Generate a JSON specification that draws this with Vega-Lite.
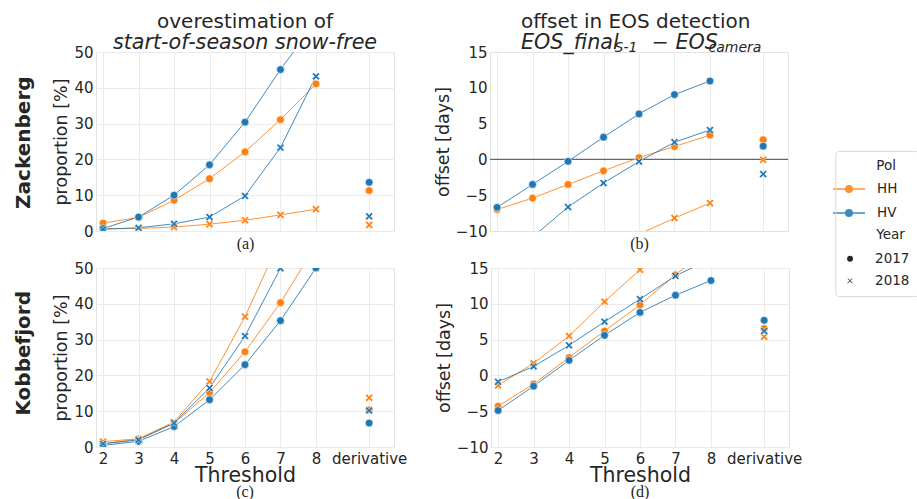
{
  "$schema": "https://vega.github.io/schema/vega-lite/v6.json",
  "padding": {"left": 14, "top": 11, "right": 0, "bottom": 0},
  "autosize": {"type": "pad"},
  "config": {
    "font": "DejaVu Sans",
    "view": {"stroke": "#e3e3e3", "strokeWidth": 1},
    "axis": {"labelFont": "DejaVu Sans", "labelFontSize": 15, "labelColor": "#262626", "titleFont": "DejaVu Sans", "titleFontWeight": "normal", "titleColor": "#262626", "ticks": false, "domain": false, "gridColor": "#ebebeb", "gridWidth": 1, "labelAngle": 0, "labelOverlap": false},
    "title": {"font": "DejaVu Sans", "color": "#262626", "fontWeight": "normal", "anchor": "middle", "frame": "group"}
  },
  "datasets": {
    "d": [
      {"site":"Zackenberg","metric":"proportion","Pol":"HH","Year":"2017","threshold":"2","value":2.2},
      {"site":"Zackenberg","metric":"proportion","Pol":"HH","Year":"2017","threshold":"3","value":3.8},
      {"site":"Zackenberg","metric":"proportion","Pol":"HH","Year":"2017","threshold":"4","value":8.6},
      {"site":"Zackenberg","metric":"proportion","Pol":"HH","Year":"2017","threshold":"5","value":14.6},
      {"site":"Zackenberg","metric":"proportion","Pol":"HH","Year":"2017","threshold":"6","value":22.1},
      {"site":"Zackenberg","metric":"proportion","Pol":"HH","Year":"2017","threshold":"7","value":31.1},
      {"site":"Zackenberg","metric":"proportion","Pol":"HH","Year":"2017","threshold":"8","value":41.1},
      {"site":"Zackenberg","metric":"proportion","Pol":"HH","Year":"2017","threshold":"derivative","value":11.3},
      {"site":"Zackenberg","metric":"proportion","Pol":"HH","Year":"2018","threshold":"2","value":0.65},
      {"site":"Zackenberg","metric":"proportion","Pol":"HH","Year":"2018","threshold":"3","value":0.7},
      {"site":"Zackenberg","metric":"proportion","Pol":"HH","Year":"2018","threshold":"4","value":1.1},
      {"site":"Zackenberg","metric":"proportion","Pol":"HH","Year":"2018","threshold":"5","value":1.9},
      {"site":"Zackenberg","metric":"proportion","Pol":"HH","Year":"2018","threshold":"6","value":3.0},
      {"site":"Zackenberg","metric":"proportion","Pol":"HH","Year":"2018","threshold":"7","value":4.5},
      {"site":"Zackenberg","metric":"proportion","Pol":"HH","Year":"2018","threshold":"8","value":6.1},
      {"site":"Zackenberg","metric":"proportion","Pol":"HH","Year":"2018","threshold":"derivative","value":1.7},
      {"site":"Zackenberg","metric":"proportion","Pol":"HV","Year":"2017","threshold":"2","value":0.7},
      {"site":"Zackenberg","metric":"proportion","Pol":"HV","Year":"2017","threshold":"3","value":3.9},
      {"site":"Zackenberg","metric":"proportion","Pol":"HV","Year":"2017","threshold":"4","value":10.0},
      {"site":"Zackenberg","metric":"proportion","Pol":"HV","Year":"2017","threshold":"5","value":18.5},
      {"site":"Zackenberg","metric":"proportion","Pol":"HV","Year":"2017","threshold":"6","value":30.4},
      {"site":"Zackenberg","metric":"proportion","Pol":"HV","Year":"2017","threshold":"7","value":45.1},
      {"site":"Zackenberg","metric":"proportion","Pol":"HV","Year":"2017","threshold":"8","value":58.5},
      {"site":"Zackenberg","metric":"proportion","Pol":"HV","Year":"2017","threshold":"derivative","value":13.6},
      {"site":"Zackenberg","metric":"proportion","Pol":"HV","Year":"2018","threshold":"2","value":0.5},
      {"site":"Zackenberg","metric":"proportion","Pol":"HV","Year":"2018","threshold":"3","value":0.9},
      {"site":"Zackenberg","metric":"proportion","Pol":"HV","Year":"2018","threshold":"4","value":2.0},
      {"site":"Zackenberg","metric":"proportion","Pol":"HV","Year":"2018","threshold":"5","value":3.9},
      {"site":"Zackenberg","metric":"proportion","Pol":"HV","Year":"2018","threshold":"6","value":9.8},
      {"site":"Zackenberg","metric":"proportion","Pol":"HV","Year":"2018","threshold":"7","value":23.3},
      {"site":"Zackenberg","metric":"proportion","Pol":"HV","Year":"2018","threshold":"8","value":43.2},
      {"site":"Zackenberg","metric":"proportion","Pol":"HV","Year":"2018","threshold":"derivative","value":4.1},
      {"site":"Zackenberg","metric":"offset","Pol":"HH","Year":"2017","threshold":"2","value":-7.0},
      {"site":"Zackenberg","metric":"offset","Pol":"HH","Year":"2017","threshold":"3","value":-5.4},
      {"site":"Zackenberg","metric":"offset","Pol":"HH","Year":"2017","threshold":"4","value":-3.5},
      {"site":"Zackenberg","metric":"offset","Pol":"HH","Year":"2017","threshold":"5","value":-1.6},
      {"site":"Zackenberg","metric":"offset","Pol":"HH","Year":"2017","threshold":"6","value":0.25},
      {"site":"Zackenberg","metric":"offset","Pol":"HH","Year":"2017","threshold":"7","value":1.8},
      {"site":"Zackenberg","metric":"offset","Pol":"HH","Year":"2017","threshold":"8","value":3.4},
      {"site":"Zackenberg","metric":"offset","Pol":"HH","Year":"2017","threshold":"derivative","value":2.75},
      {"site":"Zackenberg","metric":"offset","Pol":"HH","Year":"2018","threshold":"6","value":-10.45},
      {"site":"Zackenberg","metric":"offset","Pol":"HH","Year":"2018","threshold":"7","value":-8.2},
      {"site":"Zackenberg","metric":"offset","Pol":"HH","Year":"2018","threshold":"8","value":-6.1},
      {"site":"Zackenberg","metric":"offset","Pol":"HH","Year":"2018","threshold":"derivative","value":-0.05},
      {"site":"Zackenberg","metric":"offset","Pol":"HV","Year":"2017","threshold":"2","value":-6.7},
      {"site":"Zackenberg","metric":"offset","Pol":"HV","Year":"2017","threshold":"3","value":-3.5},
      {"site":"Zackenberg","metric":"offset","Pol":"HV","Year":"2017","threshold":"4","value":-0.27},
      {"site":"Zackenberg","metric":"offset","Pol":"HV","Year":"2017","threshold":"5","value":3.1},
      {"site":"Zackenberg","metric":"offset","Pol":"HV","Year":"2017","threshold":"6","value":6.35},
      {"site":"Zackenberg","metric":"offset","Pol":"HV","Year":"2017","threshold":"7","value":9.05},
      {"site":"Zackenberg","metric":"offset","Pol":"HV","Year":"2017","threshold":"8","value":10.95},
      {"site":"Zackenberg","metric":"offset","Pol":"HV","Year":"2017","threshold":"derivative","value":1.85},
      {"site":"Zackenberg","metric":"offset","Pol":"HV","Year":"2018","threshold":"3","value":-10.85},
      {"site":"Zackenberg","metric":"offset","Pol":"HV","Year":"2018","threshold":"4","value":-6.65},
      {"site":"Zackenberg","metric":"offset","Pol":"HV","Year":"2018","threshold":"5","value":-3.3},
      {"site":"Zackenberg","metric":"offset","Pol":"HV","Year":"2018","threshold":"6","value":-0.3},
      {"site":"Zackenberg","metric":"offset","Pol":"HV","Year":"2018","threshold":"7","value":2.4},
      {"site":"Zackenberg","metric":"offset","Pol":"HV","Year":"2018","threshold":"8","value":4.1},
      {"site":"Zackenberg","metric":"offset","Pol":"HV","Year":"2018","threshold":"derivative","value":-2.05},
      {"site":"Kobbefjord","metric":"proportion","Pol":"HH","Year":"2017","threshold":"2","value":0.9},
      {"site":"Kobbefjord","metric":"proportion","Pol":"HH","Year":"2017","threshold":"3","value":2.2},
      {"site":"Kobbefjord","metric":"proportion","Pol":"HH","Year":"2017","threshold":"4","value":6.6},
      {"site":"Kobbefjord","metric":"proportion","Pol":"HH","Year":"2017","threshold":"5","value":15.2},
      {"site":"Kobbefjord","metric":"proportion","Pol":"HH","Year":"2017","threshold":"6","value":26.6},
      {"site":"Kobbefjord","metric":"proportion","Pol":"HH","Year":"2017","threshold":"7","value":40.3},
      {"site":"Kobbefjord","metric":"proportion","Pol":"HH","Year":"2017","threshold":"8","value":56.5},
      {"site":"Kobbefjord","metric":"proportion","Pol":"HH","Year":"2017","threshold":"derivative","value":10.4},
      {"site":"Kobbefjord","metric":"proportion","Pol":"HH","Year":"2018","threshold":"2","value":1.5},
      {"site":"Kobbefjord","metric":"proportion","Pol":"HH","Year":"2018","threshold":"3","value":2.3},
      {"site":"Kobbefjord","metric":"proportion","Pol":"HH","Year":"2018","threshold":"4","value":7.0},
      {"site":"Kobbefjord","metric":"proportion","Pol":"HH","Year":"2018","threshold":"5","value":18.3},
      {"site":"Kobbefjord","metric":"proportion","Pol":"HH","Year":"2018","threshold":"6","value":36.4},
      {"site":"Kobbefjord","metric":"proportion","Pol":"HH","Year":"2018","threshold":"7","value":58.0},
      {"site":"Kobbefjord","metric":"proportion","Pol":"HH","Year":"2018","threshold":"8","value":80.0},
      {"site":"Kobbefjord","metric":"proportion","Pol":"HH","Year":"2018","threshold":"derivative","value":13.75},
      {"site":"Kobbefjord","metric":"proportion","Pol":"HV","Year":"2017","threshold":"2","value":0.45},
      {"site":"Kobbefjord","metric":"proportion","Pol":"HV","Year":"2017","threshold":"3","value":1.6},
      {"site":"Kobbefjord","metric":"proportion","Pol":"HV","Year":"2017","threshold":"4","value":5.7},
      {"site":"Kobbefjord","metric":"proportion","Pol":"HV","Year":"2017","threshold":"5","value":13.2},
      {"site":"Kobbefjord","metric":"proportion","Pol":"HV","Year":"2017","threshold":"6","value":23.0},
      {"site":"Kobbefjord","metric":"proportion","Pol":"HV","Year":"2017","threshold":"7","value":35.3},
      {"site":"Kobbefjord","metric":"proportion","Pol":"HV","Year":"2017","threshold":"8","value":50.0},
      {"site":"Kobbefjord","metric":"proportion","Pol":"HV","Year":"2017","threshold":"derivative","value":6.7},
      {"site":"Kobbefjord","metric":"proportion","Pol":"HV","Year":"2018","threshold":"2","value":0.9},
      {"site":"Kobbefjord","metric":"proportion","Pol":"HV","Year":"2018","threshold":"3","value":2.0},
      {"site":"Kobbefjord","metric":"proportion","Pol":"HV","Year":"2018","threshold":"4","value":6.7},
      {"site":"Kobbefjord","metric":"proportion","Pol":"HV","Year":"2018","threshold":"5","value":16.5},
      {"site":"Kobbefjord","metric":"proportion","Pol":"HV","Year":"2018","threshold":"6","value":31.0},
      {"site":"Kobbefjord","metric":"proportion","Pol":"HV","Year":"2018","threshold":"7","value":49.9},
      {"site":"Kobbefjord","metric":"proportion","Pol":"HV","Year":"2018","threshold":"8","value":68.0},
      {"site":"Kobbefjord","metric":"proportion","Pol":"HV","Year":"2018","threshold":"derivative","value":10.2},
      {"site":"Kobbefjord","metric":"offset","Pol":"HH","Year":"2017","threshold":"2","value":-4.3},
      {"site":"Kobbefjord","metric":"offset","Pol":"HH","Year":"2017","threshold":"3","value":-1.2},
      {"site":"Kobbefjord","metric":"offset","Pol":"HH","Year":"2017","threshold":"4","value":2.5},
      {"site":"Kobbefjord","metric":"offset","Pol":"HH","Year":"2017","threshold":"5","value":6.2},
      {"site":"Kobbefjord","metric":"offset","Pol":"HH","Year":"2017","threshold":"6","value":9.85},
      {"site":"Kobbefjord","metric":"offset","Pol":"HH","Year":"2017","threshold":"7","value":14.05},
      {"site":"Kobbefjord","metric":"offset","Pol":"HH","Year":"2017","threshold":"8","value":18.0},
      {"site":"Kobbefjord","metric":"offset","Pol":"HH","Year":"2017","threshold":"derivative","value":6.55},
      {"site":"Kobbefjord","metric":"offset","Pol":"HH","Year":"2018","threshold":"2","value":-1.4},
      {"site":"Kobbefjord","metric":"offset","Pol":"HH","Year":"2018","threshold":"3","value":1.7},
      {"site":"Kobbefjord","metric":"offset","Pol":"HH","Year":"2018","threshold":"4","value":5.5},
      {"site":"Kobbefjord","metric":"offset","Pol":"HH","Year":"2018","threshold":"5","value":10.3},
      {"site":"Kobbefjord","metric":"offset","Pol":"HH","Year":"2018","threshold":"6","value":14.75},
      {"site":"Kobbefjord","metric":"offset","Pol":"HH","Year":"2018","threshold":"7","value":19.0},
      {"site":"Kobbefjord","metric":"offset","Pol":"HH","Year":"2018","threshold":"8","value":23.0},
      {"site":"Kobbefjord","metric":"offset","Pol":"HH","Year":"2018","threshold":"derivative","value":5.4},
      {"site":"Kobbefjord","metric":"offset","Pol":"HV","Year":"2017","threshold":"2","value":-4.9},
      {"site":"Kobbefjord","metric":"offset","Pol":"HV","Year":"2017","threshold":"3","value":-1.5},
      {"site":"Kobbefjord","metric":"offset","Pol":"HV","Year":"2017","threshold":"4","value":2.1},
      {"site":"Kobbefjord","metric":"offset","Pol":"HV","Year":"2017","threshold":"5","value":5.6},
      {"site":"Kobbefjord","metric":"offset","Pol":"HV","Year":"2017","threshold":"6","value":8.8},
      {"site":"Kobbefjord","metric":"offset","Pol":"HV","Year":"2017","threshold":"7","value":11.2},
      {"site":"Kobbefjord","metric":"offset","Pol":"HV","Year":"2017","threshold":"8","value":13.25},
      {"site":"Kobbefjord","metric":"offset","Pol":"HV","Year":"2017","threshold":"derivative","value":7.7},
      {"site":"Kobbefjord","metric":"offset","Pol":"HV","Year":"2018","threshold":"2","value":-0.9},
      {"site":"Kobbefjord","metric":"offset","Pol":"HV","Year":"2018","threshold":"3","value":1.25},
      {"site":"Kobbefjord","metric":"offset","Pol":"HV","Year":"2018","threshold":"4","value":4.2},
      {"site":"Kobbefjord","metric":"offset","Pol":"HV","Year":"2018","threshold":"5","value":7.5},
      {"site":"Kobbefjord","metric":"offset","Pol":"HV","Year":"2018","threshold":"6","value":10.65},
      {"site":"Kobbefjord","metric":"offset","Pol":"HV","Year":"2018","threshold":"7","value":13.9},
      {"site":"Kobbefjord","metric":"offset","Pol":"HV","Year":"2018","threshold":"8","value":16.3},
      {"site":"Kobbefjord","metric":"offset","Pol":"HV","Year":"2018","threshold":"derivative","value":6.2}
    ]
  },
  "spacing": 8,
  "vconcat": [
    {
      "title": {"text": "Zackenberg", "orient": "left", "fontSize": 20, "fontWeight": "bold", "offset": 18, "frame": "bounds", "anchor": "middle", "dx": -11},
      "spacing": 38,
      "hconcat": [
        {
          "width": 298, "height": 179,
          "data": {"name": "d"},
          "transform": [{"filter": {"field": "site", "equal": "Zackenberg"}}, {"filter": {"field": "metric", "equal": "proportion"}}],
          "title": {"text": "overestimation of", "subtitle": "start-of-season snow-free", "fontSize": 20, "subtitleFontSize": 20.7, "subtitleFont": "DejaVu Sans", "subtitleFontStyle": "italic", "subtitleColor": "#262626", "subtitlePadding": 1, "offset": -8},
          "encoding": {
            "x": {"field": "threshold", "type": "ordinal", "scale": {"type": "point", "domain": ["2","g1","3","g2","4","g3","5","g4","6","g5","7","g6","8","g7","g8","derivative","g9"], "padding": 0.4}, "axis": {"orient": "bottom", "values": ["2","3","4","5","6","7","8","derivative"], "labels": false, "grid": true, "title": "(a)", "titleFont": "Liberation Serif", "titleFontSize": 16, "titlePadding": 4}},
            "y": {"field": "value", "type": "quantitative", "scale": {"domain": [0, 50], "nice": false, "zero": false}, "axis": {"values": [0,10,20,30,40,50], "title": "proportion [%]", "titleFontSize": 17.5, "titlePadding": 3, "labelPadding": 3}},
            "color": {"field": "Pol", "type": "nominal", "scale": {"domain": ["HH","HV"], "range": ["#ff7f0e","#1f77b4"]}, "legend": {"orient": "none", "legendX": 744, "legendY": 128, "title": null, "labelFontSize": 13.5, "labelColor": "#262626", "symbolType": "M-2,0L2,0M-0.4,0A0.4,0.4,0,1,1,0.4,0A0.4,0.4,0,1,1,-0.4,0Z", "symbolSize": 256, "symbolStrokeWidth": 1.6, "labelOffset": 19, "rowPadding": 8, "padding": 0}}
          },
          "layer": [
            {
              "transform": [{"filter": {"not": {"field": "threshold", "equal": "derivative"}}}],
              "mark": {"type": "line", "strokeWidth": 1, "opacity": 0.85, "clip": true},
              "encoding": {"detail": {"field": "Year"}}
            },
            {
              "mark": {"type": "point", "filled": true, "size": 60, "stroke": "white", "strokeWidth": 0.6, "opacity": 1, "clip": true},
              "encoding": {
                "shape": {"field": "Year", "type": "nominal", "scale": {"domain": ["2017","2018"], "range": ["circle", "M-1,-0.6L-0.6,-1L0,-0.4L0.6,-1L1,-0.6L0.4,0L1,0.6L0.6,1L0,0.4L-0.6,1L-1,0.6L-0.4,0Z"]}, "legend": {"orient": "none", "legendX": 739.3, "legendY": 99, "title": ["Pol", "\u200b", "\u200b", "Year"], "titleFontWeight": "normal", "titleFontSize": 13.5, "titleColor": "#262626", "titleLineHeight": 23, "titleAnchor": "middle", "titleAlign": "left", "titlePadding": 10.5, "labelFontSize": 13.5, "labelColor": "#262626", "symbolSize": 55, "symbolFillColor": "#262626", "labelOffset": 18.3, "rowPadding": 7, "padding": 8, "strokeColor": "#d9d9d9", "cornerRadius": 3}}
              }
            }
          ]
        },
        {
          "width": 298, "height": 179,
          "data": {"name": "d"},
          "transform": [{"filter": {"field": "site", "equal": "Zackenberg"}}, {"filter": {"field": "metric", "equal": "offset"}}],
          "title": {"text": "offset in EOS detection", "subtitle": "EOS_final\u00a0\u00a0\u00a0\u00a0 \u2212 EOS", "fontSize": 20, "subtitleFontSize": 20.7, "subtitleFont": "DejaVu Sans", "subtitleFontStyle": "italic", "subtitleColor": "#262626", "subtitlePadding": 1, "offset": -13, "anchor": "start", "dx": 31},
          "layer": [
            {
              "data": {"values": [{}]},
              "mark": {"type": "rule", "color": "#666666", "strokeWidth": 1.2},
              "encoding": {"y": {"datum": 0, "type": "quantitative", "scale": {"domain": [-10, 15], "nice": false, "zero": false}, "axis": {"values": [-10,-5,0,5,10,15], "title": "offset [days]", "titleFontSize": 17.5, "titlePadding": 3, "labelPadding": 3}}}
            },
            {
              "transform": [{"filter": {"not": {"field": "threshold", "equal": "derivative"}}}],
              "mark": {"type": "line", "strokeWidth": 1, "opacity": 0.85, "clip": true},
              "encoding": {
                "x": {"field": "threshold", "type": "ordinal", "scale": {"type": "point", "domain": ["2","g1","3","g2","4","g3","5","g4","6","g5","7","g6","8","g7","g8","derivative","g9"], "padding": 0.4}, "axis": {"orient": "bottom", "values": ["2","3","4","5","6","7","8","derivative"], "labels": false, "grid": true, "title": "(b)", "titleFont": "Liberation Serif", "titleFontSize": 16, "titlePadding": 4}},
                "y": {"field": "value", "type": "quantitative", "scale": {"domain": [-10, 15], "nice": false, "zero": false}, "axis": {"values": [-10,-5,0,5,10,15], "title": "offset [days]", "titleFontSize": 17.5, "titlePadding": 3, "labelPadding": 3}},
                "color": {"field": "Pol", "type": "nominal"},
                "detail": {"field": "Year"}
              }
            },
            {
              "mark": {"type": "point", "filled": true, "size": 60, "stroke": "white", "strokeWidth": 0.6, "opacity": 1, "clip": true},
              "encoding": {
                "x": {"field": "threshold", "type": "ordinal", "scale": {"type": "point", "domain": ["2","g1","3","g2","4","g3","5","g4","6","g5","7","g6","8","g7","g8","derivative","g9"], "padding": 0.4}, "axis": {"orient": "top", "labels": false, "grid": false, "title": "S-1\u00a0\u00a0\u00a0\u00a0\u00a0\u00a0\u00a0\u00a0\u00a0\u00a0\u00a0\u00a0\u00a0\u00a0\u00a0\u00a0camera", "titleFontSize": 14, "titleFontStyle": "italic", "titleY": -1, "titleBaseline": "alphabetic", "titleX": 124, "titleAlign": "left"}},
                "y": {"field": "value", "type": "quantitative", "scale": {"domain": [-10, 15], "nice": false, "zero": false}, "axis": {"values": [-10,-5,0,5,10,15], "title": "offset [days]", "titleFontSize": 17.5, "titlePadding": 3, "labelPadding": 3}},
                "color": {"field": "Pol", "type": "nominal"},
                "shape": {"field": "Year", "type": "nominal"}
              }
            }
          ],
          "resolve": {"axis": {"x": "independent"}}
        }
      ]
    },
    {
      "title": {"text": "Kobbefjord", "orient": "left", "fontSize": 20, "fontWeight": "bold", "offset": 18, "frame": "bounds", "anchor": "middle", "dx": 27},
      "spacing": 26,
      "hconcat": [
        {
          "width": 298, "height": 179,
          "data": {"name": "d"},
          "transform": [{"filter": {"field": "site", "equal": "Kobbefjord"}}, {"filter": {"field": "metric", "equal": "proportion"}}],
          "title": {"text": "(c)", "orient": "bottom", "font": "Liberation Serif", "fontSize": 16, "offset": -2},
          "encoding": {
            "x": {"field": "threshold", "type": "ordinal", "scale": {"type": "point", "domain": ["2","g1","3","g2","4","g3","5","g4","6","g5","7","g6","8","g7","g8","derivative","g9"], "padding": 0.4}, "axis": {"values": ["2","3","4","5","6","7","8","derivative"], "grid": true, "labelPadding": 4, "title": "Threshold", "titleFontSize": 20.5, "titlePadding": -1}},
            "y": {"field": "value", "type": "quantitative", "scale": {"domain": [0, 50], "nice": false, "zero": false}, "axis": {"values": [0,10,20,30,40,50], "title": "proportion [%]", "titleFontSize": 17.5, "titlePadding": 3, "labelPadding": 3}},
            "color": {"field": "Pol", "type": "nominal"}
          },
          "layer": [
            {
              "transform": [{"filter": {"not": {"field": "threshold", "equal": "derivative"}}}],
              "mark": {"type": "line", "strokeWidth": 1, "opacity": 0.85, "clip": true},
              "encoding": {"detail": {"field": "Year"}}
            },
            {
              "mark": {"type": "point", "filled": true, "size": 60, "stroke": "white", "strokeWidth": 0.6, "opacity": 1, "clip": true},
              "encoding": {"shape": {"field": "Year", "type": "nominal"}}
            }
          ]
        },
        {
          "width": 298, "height": 179,
          "data": {"name": "d"},
          "transform": [{"filter": {"field": "site", "equal": "Kobbefjord"}}, {"filter": {"field": "metric", "equal": "offset"}}],
          "title": {"text": "(d)", "orient": "bottom", "font": "Liberation Serif", "fontSize": 16, "offset": -2},
          "encoding": {
            "x": {"field": "threshold", "type": "ordinal", "scale": {"type": "point", "domain": ["2","g1","3","g2","4","g3","5","g4","6","g5","7","g6","8","g7","g8","derivative","g9"], "padding": 0.4}, "axis": {"values": ["2","3","4","5","6","7","8","derivative"], "grid": true, "labelPadding": 4, "title": "Threshold", "titleFontSize": 20.5, "titlePadding": -1}},
            "y": {"field": "value", "type": "quantitative", "scale": {"domain": [-10, 15], "nice": false, "zero": false}, "axis": {"values": [-10,-5,0,5,10,15], "title": "offset [days]", "titleFontSize": 17.5, "titlePadding": 3, "labelPadding": 3}}
          },
          "layer": [
            {
              "data": {"values": [{}]},
              "mark": {"type": "rule", "color": "#666666", "strokeWidth": 1.2},
              "encoding": {"y": {"datum": 0, "type": "quantitative"}, "x": null}
            },
            {
              "transform": [{"filter": {"not": {"field": "threshold", "equal": "derivative"}}}],
              "mark": {"type": "line", "strokeWidth": 1, "opacity": 0.85, "clip": true},
              "encoding": {"color": {"field": "Pol", "type": "nominal"}, "detail": {"field": "Year"}}
            },
            {
              "mark": {"type": "point", "filled": true, "size": 60, "stroke": "white", "strokeWidth": 0.6, "opacity": 1, "clip": true},
              "encoding": {"color": {"field": "Pol", "type": "nominal"}, "shape": {"field": "Year", "type": "nominal"}}
            }
          ]
        }
      ]
    }
  ]
}
